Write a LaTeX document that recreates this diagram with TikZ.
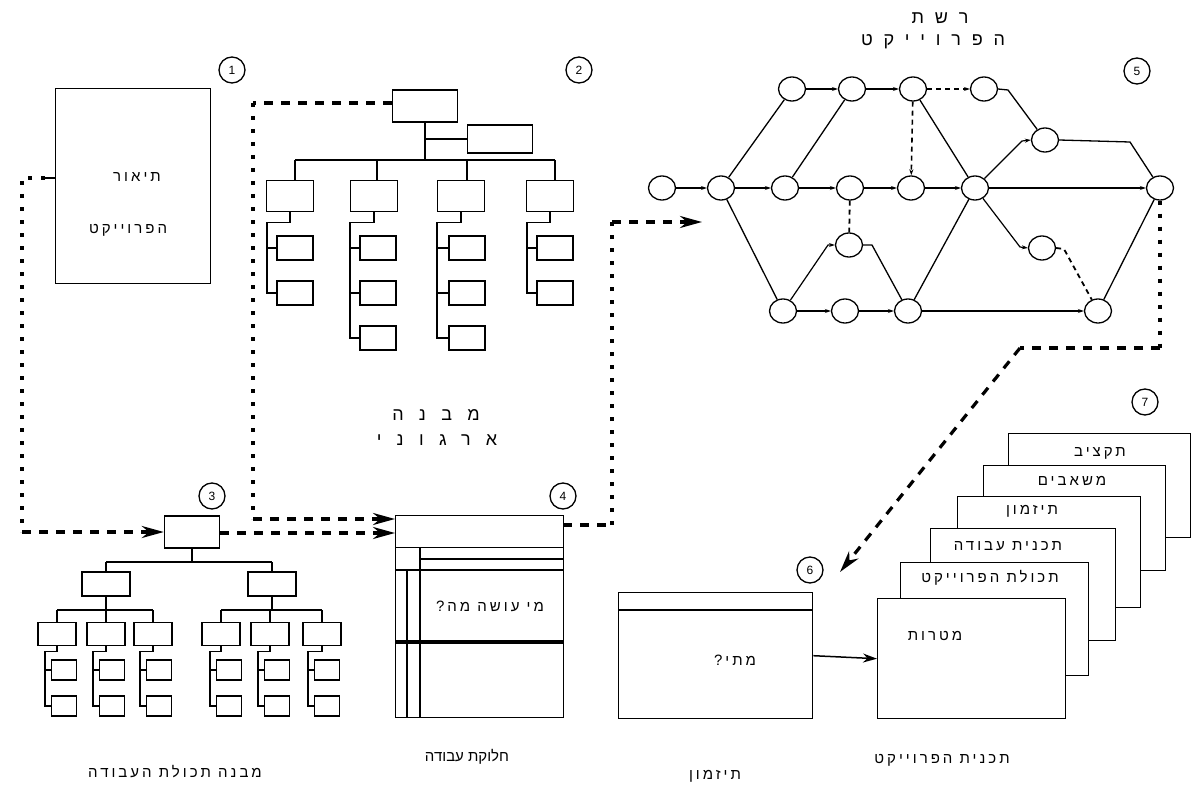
\documentclass[tikz,border=0pt]{standalone}
\usepackage{fontspec}
\setmainfont{Liberation Sans}
\newfontfamily\heb[Script=Hebrew]{Liberation Sans}
\newfontfamily\hebw[Script=Hebrew,LetterSpace=20]{Liberation Sans}
\newfontfamily\hebsp[Script=Hebrew,LetterSpace=60]{Liberation Sans}
\newfontfamily\hebsq[Script=Hebrew,LetterSpace=85]{Liberation Sans}
\TeXXeTstate=1
\usetikzlibrary{arrows.meta,shapes.geometric}
\newcommand{\hb}[1]{{\heb\beginR #1\endR}}
\newcommand{\hw}[1]{{\hebw\beginR #1\endR}}
\newcommand{\hbs}[1]{{\hebsp\beginR #1\endR}}
\newcommand{\hbq}[1]{{\hebsq\beginR #1\endR}}
\begin{document}
\begin{tikzpicture}[x=1pt,y=-1pt,
  bx/.style={draw, line width=1.4pt, inner sep=0pt},
  pg/.style={draw, fill=white, line width=1.4pt, inner sep=0pt, anchor=north west},
  ln/.style={line width=1.3pt},
  ev/.style={draw, ellipse, line width=1.3pt, minimum width=27pt, minimum height=24pt, inner sep=0pt},
  num/.style={draw, circle, line width=1.3pt, minimum size=26pt, inner sep=0pt, font=\fontsize{12}{12}\selectfont},
  flow/.style={line width=3.2pt, dash pattern=on 9pt off 8pt},
  dots/.style={line width=3.6pt, dash pattern=on 4pt off 9pt},
  tipbig/.style={-{Stealth[length=22pt,width=12pt]}},
  act/.style={line width=1.2pt, -{Stealth[length=6pt,width=4pt]}},
  actd/.style={line width=1.6pt, dash pattern=on 5pt off 4pt, -{Stealth[length=6pt,width=4pt]}},
  dln/.style={line width=1.8pt, dash pattern=on 5pt off 4pt},
  lab/.style={font=\fontsize{15}{15}\selectfont},
  ttl/.style={font=\fontsize{18}{18}\selectfont}]
\useasboundingbox (0,0) rectangle (1192,789);
\fill[white] (0,0) rectangle (1192,789);

% ---------- numbers
\node[num] (n1) at (232,70) {1};
\node[num] (n2) at (579,70) {2};
\node[num] (n3) at (212,496) {3};
\node[num] (n4) at (563,496) {4};
\node[num] (n5) at (1137,71) {5};
\node[num] (n6) at (810,570) {6};
\node[num] (n7) at (1145,402) {7};

% ---------- box 1
\node[bx, anchor=north west, minimum width=155pt, minimum height=195pt] (desc) at (55,88) {};
\node[lab] (d1) at (137,177) {\hw{תיאור}};
\node[lab] (d2) at (128,230) {\hw{הפרוייקט}};

% ---------- org chart (2)
\node[bx, minimum width=65pt, minimum height=32pt] (o0) at (425,106) {};
\node[bx, minimum width=65pt, minimum height=28pt] (oa) at (500,139) {};
\draw[ln] (o0.south) -- (425,160);
\draw[ln] (425,139) -- (oa.west);
\draw[ln] (295,160) -- (555,160);
\foreach \i/\cx/\dx/\sx/\bx/\nr in {1/290/295/267/295/2, 2/374/377/350/378/3, 3/461/467/437/467/3, 4/550/555/527/555/2}{
  \node[bx, minimum width=47pt, minimum height=31pt] (o\i) at (\cx,196) {};
  \draw[ln] (\dx,160) -- (\dx,180.5);
  \ifnum\nr=3
    \node[bx, minimum width=36pt, minimum height=24pt] (o\i a) at (\bx,248) {};
    \node[bx, minimum width=36pt, minimum height=24pt] (o\i b) at (\bx,293) {};
    \node[bx, minimum width=36pt, minimum height=24pt] (o\i c) at (\bx,338) {};
    \draw[ln] (o\i.south) -- ++(0,10) -| (\sx,338) -- (o\i c.west);
  \else
    \node[bx, minimum width=36pt, minimum height=24pt] (o\i a) at (\bx,248) {};
    \node[bx, minimum width=36pt, minimum height=24pt] (o\i b) at (\bx,293) {};
    \draw[ln] (o\i.south) -- ++(0,10) -| (\sx,293) -- (o\i b.west);
  \fi
  \draw[ln] (\sx,248) -- (o\i a.west);
  \draw[ln] (\sx,293) -- (o\i b.west);
}
\node[ttl] (ot1) at (436,415) {\hbq{מבנה}};
\node[ttl] (ot2) at (437,440) {\hbq{ארגוני}};

% ---------- WBS (3)
\node[bx, minimum width=55pt, minimum height=32pt] (w0) at (192,532) {};
\draw[ln] (w0.south) -- (192,562);
\draw[ln] (106,562) -- (272,562);
\foreach \i/\cx/\la/\lb/\lc in {1/106/57/106/153, 2/272/221/270/322}{
  \node[bx, minimum width=48pt, minimum height=24pt] (w\i) at (\cx,584) {};
  \draw[ln] (\cx,562) -- (w\i.north);
  \draw[ln] (w\i.south) -- (\cx,610);
  \draw[ln] (\la,610) -- (\lc,610);
}
\foreach \j/\cx/\sx in {1/57/45, 2/106/93, 3/153/140, 4/221/210, 5/270/258, 6/322/308}{
  \node[bx, minimum width=38pt, minimum height=23pt] (v\j) at (\cx,634) {};
  \draw[ln] (\cx,610) -- (v\j.north);
  \node[bx, minimum width=25pt, minimum height=20pt] (v\j a) at (\sx+19,670) {};
  \node[bx, minimum width=25pt, minimum height=20pt] (v\j b) at (\sx+19,706) {};
  \draw[ln] (v\j.south) -- ++(0,5) -| (\sx,706) -- (v\j b.west);
  \draw[ln] (\sx,670) -- (v\j a.west);
}

% ---------- work assignment (4)
\node[bx, anchor=north west, minimum width=168pt, minimum height=202pt] (wp) at (395,515) {};
\draw[line width=1pt] (395,547) -- (563,547);
\draw[line width=1.2pt] (420,559) -- (563,559);
\draw[line width=1.4pt] (395,570) -- (563,570);
\draw[line width=3.5pt] (395,642) -- (563,642);
\draw[line width=1.3pt] (420,547) -- (420,717);
\draw[line width=1.3pt] (407,570) -- (407,717);
\node[lab] (wt) at (490,606) {\hw{מי עושה מה?}};

% ---------- network (5)
\node[ttl] (nt1) at (940,18) {\hbs{רשת}};
\node[ttl] (nt2) at (933,42) {\hbs{הפרוייקט}};
\foreach \n/\x/\y in {s/662/188, m1/721/188, m2/785/188, m3/850/188, m4/911/188, m5/975/188, e/1160/188,
  t1/792/89, t2/852/89, t3/913/89, t4/984/89, ur/1045/140, lr/1042/248, lm/849/245,
  b1/783/311, b2/845/311, b3/908/311, b4/1098/311}{
  \node[ev] (\n) at (\x,\y) {};
}
\draw[act] (s) -- (m1);
\draw[act] (m1) -- (m2);
\draw[act] (m2) -- (m3);
\draw[act] (m3) -- (m4);
\draw[act] (m4) -- (m5);
\draw[act] (m5) -- (e);
\draw[act] (t1) -- (t2);
\draw[act] (t2) -- (t3);
\draw[actd] (t3) -- (t4);
\draw[actd] (t3) -- (m4);
\draw[dln] (m3) -- (lm);
\draw[ln] (m1) -- (t1);
\draw[ln] (m2) -- (t2);
\draw[ln] (m1) -- (b1);
\draw[ln] (t3) -- (m5);
\draw[ln] (b3) -- (m5);
\draw[ln] (b4) -- (e);
\draw[act] (b1) -- (b2);
\draw[act] (b2) -- (b3);
\draw[act] (b3) -- (b4);
\draw[ln] (t4.east) -- (1008,90) -- (ur);
\draw[ln] (ur.east) -- (1130,142) -- (e);
\draw[act] (m5) -- (1022,141) -- (ur.west);
\draw[act] (m5) -- (1020,247) -- (lr.west);
\draw[dln] (lr.east) -- (1064,249) -- (b4);
\draw[act] (b1) -- (828,245) -- (lm.west);
\draw[ln] (lm.east) -- (872,245) -- (b3);

% ---------- timing (6)
\node[bx, anchor=north west, minimum width=194pt, minimum height=126pt] (tm) at (618,592) {};
\draw[line width=1.6pt] (618,610) -- (812,610);
\node[lab] (tmt) at (735,660) {\hw{מתי?}};

% ---------- plan stack (7)
\node[pg, minimum width=182pt, minimum height=104pt] (p0) at (1008,433) {};
\node[pg, minimum width=182pt, minimum height=105pt] (p1) at (983,465) {};
\node[pg, minimum width=183pt, minimum height=111pt] (p2) at (957,496) {};
\node[pg, minimum width=185pt, minimum height=112pt] (p3) at (930,528) {};
\node[pg, minimum width=188pt, minimum height=113pt] (p4) at (900,562) {};
\node[pg, minimum width=188pt, minimum height=120pt] (p5) at (877,598) {};
\node[lab] (pt0) at (1100,453) {\hw{תקציב}};
\node[lab] (pt1) at (1072,481) {\hw{משאבים}};
\node[lab] (pt2) at (1032,511) {\hw{תיזמון}};
\node[lab] (pt3) at (1008,546) {\hw{תכנית עבודה}};
\node[lab] (pt4) at (990,578) {\hw{תכולת הפרוייקט}};
\node[lab] (pt5) at (935,636) {\hw{מטרות}};
\draw[line width=1.5pt, -{Stealth[length=14pt,width=9pt]}] (tm.east) -- (p5.west);

% ---------- bottom captions
\node[lab] (c1) at (175,772) {\hw{מבנה תכולת העבודה}};
\node[lab] (c2) at (467,757) {\hb{חלוקת עבודה}};
\node[lab] (c3) at (715,776) {\hw{תיזמון}};
\node[lab] (c4) at (942,760) {\hw{תכנית הפרוייקט}};

% ---------- flow connectors
\coordinate (a1) at (22,178);
\coordinate (a2) at (22,532);
\draw[line width=1.5pt] (desc.west |- a1) -- (45,178);
\draw[dots] (45,178) -- (a1) -- (a2);
\draw[flow, tipbig] (a2) -- (w0.west);

\coordinate (bb1) at (253,103);
\coordinate (bb2) at (253,519);
\draw[flow] (o0.west |- bb1) -- (bb1);
\draw[dots] (bb1) -- (bb2);
\draw[flow, tipbig] (bb2) -- (wp.west |- bb2);

\coordinate (cc1) at (395,533);
\draw[flow, tipbig] (w0.east |- cc1) -- (cc1);

\coordinate (dd0) at (563,525);
\coordinate (dd1) at (612,525);
\coordinate (dd2) at (612,222);
\coordinate (dd3) at (702,222);
\draw[flow] (dd0) -- (dd1);
\draw[dots] (dd1) -- (dd2);
\draw[flow, tipbig] (dd2) -- (dd3);

\coordinate (ee1) at (1160,348);
\coordinate (ee2) at (1020,348);
\coordinate (ee3) at (840,572);
\draw[dots] (e.south) -- (ee1);
\draw[flow] (ee1) -- (ee2);
\draw[flow, tipbig] (ee2) -- (ee3);
\end{tikzpicture}
\end{document}
